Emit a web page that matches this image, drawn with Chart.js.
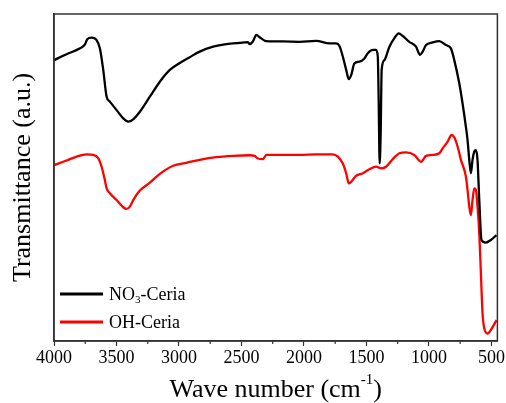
<!DOCTYPE html>
<html>
<head>
<meta charset="utf-8">
<script src="https://cdn.jsdelivr.net/npm/chart.js@4/dist/chart.umd.min.js"></script>
<style>
  html, body { margin: 0; padding: 0; background: #fff; }
  #wrap { width: 506px; height: 403px; position: relative; }
</style>
</head>
<body>
<div id="wrap"><canvas id="ftirChart"></canvas></div>
<script>
// --- Data (wavenumber cm-1, transmittance a.u.) ---
const no3Wave = [4000, 3899, 3792, 3752, 3734, 3699, 3659, 3633, 3606, 3579, 3553, 3499, 3446, 3406, 3366, 3313, 3233, 3153, 3073, 2994, 2914, 2834, 2727, 2621, 2514, 2448, 2435, 2408, 2381, 2355, 2301, 2168, 2035, 1902, 1796, 1742, 1716, 1689, 1662, 1641, 1622, 1596, 1556, 1516, 1489, 1449, 1423, 1409, 1402, 1394, 1386, 1378, 1356, 1316, 1276, 1242, 1210, 1157, 1103, 1071, 1050, 1023, 970, 917, 864, 824, 797, 757, 731, 704, 691, 677, 664, 651, 637, 624, 611, 597, 579, 544, 504, 459];
const no3Trans = [85.9, 87.7, 89.5, 90.7, 92.3, 92.8, 92.0, 89.5, 82.9, 74.7, 73.2, 70.6, 68.1, 67.1, 67.8, 70.1, 74.7, 79.3, 82.9, 85.0, 86.8, 88.5, 90.0, 90.8, 91.2, 91.4, 90.8, 91.6, 93.6, 92.9, 91.7, 91.6, 91.5, 91.8, 91.0, 91.0, 90.2, 87.0, 82.9, 80.1, 81.3, 84.9, 85.4, 86.4, 88.0, 89.0, 89.0, 87.0, 73.7, 54.3, 63.5, 82.9, 85.9, 90.0, 92.6, 94.1, 93.3, 91.5, 90.0, 87.5, 88.5, 90.5, 91.3, 91.7, 90.5, 89.5, 85.9, 78.8, 72.7, 65.5, 61.5, 55.4, 51.3, 55.4, 57.9, 58.4, 55.4, 43.1, 30.9, 30.1, 30.9, 32.4];

const ohWave = [4000, 3899, 3819, 3739, 3686, 3646, 3619, 3593, 3579, 3553, 3499, 3446, 3420, 3393, 3366, 3313, 3233, 3153, 3047, 2940, 2834, 2701, 2568, 2435, 2395, 2368, 2328, 2301, 2168, 2035, 1902, 1769, 1729, 1689, 1662, 1641, 1622, 1583, 1529, 1476, 1423, 1383, 1343, 1290, 1236, 1183, 1117, 1063, 1023, 970, 917, 890, 850, 818, 797, 770, 744, 704, 691, 677, 664, 651, 637, 624, 611, 597, 584, 571, 557, 531, 496, 459];
const ohTrans = [53.8, 55.2, 56.4, 57.1, 56.9, 55.9, 53.3, 49.2, 46.7, 45.2, 43.1, 40.9, 40.4, 41.1, 43.1, 46.0, 48.4, 51.1, 53.6, 54.5, 55.4, 56.2, 56.6, 56.8, 56.6, 55.8, 55.6, 56.9, 56.9, 56.9, 57.1, 57.1, 56.4, 54.3, 51.3, 48.2, 48.7, 50.5, 51.3, 52.5, 53.3, 52.8, 53.3, 55.6, 57.4, 57.7, 56.9, 54.8, 56.6, 56.9, 57.4, 58.9, 61.0, 63.0, 62.3, 59.4, 55.4, 50.3, 46.2, 41.1, 38.5, 43.1, 46.7, 46.2, 41.1, 32.9, 20.7, 8.5, 3.9, 2.3, 3.9, 6.4];

const majorTicks = [4000, 3500, 3000, 2500, 2000, 1500, 1000, 500];
const minorTicks = [3750, 3250, 2750, 2250, 1750, 1250, 750];

const seriesLabels = ['NO3-Ceria', 'OH-Ceria'];
const seriesColors = ['#000000', '#ff0000'];

const serif = "'Liberation Serif', 'Times New Roman', serif";

// --- Helpers ---
const toPoints = (xs, ys) => xs.map((x, i) => ({ x: x, y: ys[i] }));

// text with digits after letters drawn as subscript (NO3)
function drawChemText(ctx, text, x, y, size) {
    let cx = x;
    const parts = text.match(/[A-Za-z\-]+|\d+/g);
    let prevLetter = false;
    parts.forEach(p => {
        if (/^\d+$/.test(p) && prevLetter) {
            ctx.font = (size * 0.62) + 'px ' + serif;
            ctx.fillText(p, cx, y + size * 0.28);
        } else {
            ctx.font = size + 'px ' + serif;
            ctx.fillText(p, cx, y);
        }
        cx += ctx.measureText(p).width;
        prevLetter = /[A-Za-z]$/.test(p);
    });
}

// frame, minor ticks, x title, legend
const decorPlugin = {
    id: 'decor',
    afterDraw(chart) {
        const ctx = chart.ctx;
        const area = chart.chartArea;
        const xs = chart.scales.x;
        ctx.save();

        // box around the plot
        ctx.strokeStyle = '#333';
        ctx.lineWidth = 1.5;
        ctx.strokeRect(area.left, area.top, area.right - area.left, area.bottom - area.top);

        // minor ticks
        ctx.lineWidth = 1.2;
        minorTicks.forEach(v => {
            const px = xs.getPixelForValue(v);
            ctx.beginPath();
            ctx.moveTo(px, area.bottom);
            ctx.lineTo(px, area.bottom + 3);
            ctx.stroke();
        });

        // x axis title with superscript
        ctx.fillStyle = '#000';
        ctx.textBaseline = 'alphabetic';
        const big = 26, small = 15;
        const t1 = 'Wave number (cm', sup = '-1', t2 = ')';
        ctx.font = big + 'px ' + serif;
        const w1 = ctx.measureText(t1).width;
        const w3 = ctx.measureText(t2).width;
        ctx.font = small + 'px ' + serif;
        const w2 = ctx.measureText(sup).width;
        let tx = (area.left + area.right) / 2 - (w1 + w2 + w3) / 2;
        const ty = 397;
        ctx.font = big + 'px ' + serif;
        ctx.fillText(t1, tx, ty);
        tx += w1;
        ctx.font = small + 'px ' + serif;
        ctx.fillText(sup, tx, ty - 13);
        tx += w2;
        ctx.font = big + 'px ' + serif;
        ctx.fillText(t2, tx, ty);

        // legend
        const legendY = [294, 322];
        chart.data.datasets.forEach((ds, i) => {
            ctx.strokeStyle = ds.borderColor;
            ctx.lineWidth = 3;
            ctx.beginPath();
            ctx.moveTo(60, legendY[i]);
            ctx.lineTo(103, legendY[i]);
            ctx.stroke();
            ctx.fillStyle = '#000';
            ctx.textBaseline = 'middle';
            drawChemText(ctx, ds.label, 109, legendY[i] + 1, 18);
        });

        ctx.restore();
    }
};

const chart = new Chart(document.getElementById('ftirChart'), {
    type: 'line',
    data: {
        datasets: [
            {
                label: seriesLabels[0],
                data: toPoints(no3Wave, no3Trans),
                borderColor: seriesColors[0],
                borderWidth: 2.3,
                pointRadius: 0,
                cubicInterpolationMode: 'monotone'
            },
            {
                label: seriesLabels[1],
                data: toPoints(ohWave, ohTrans),
                borderColor: seriesColors[1],
                borderWidth: 2.3,
                pointRadius: 0,
                cubicInterpolationMode: 'monotone'
            }
        ]
    },
    options: {
        responsive: true,
        maintainAspectRatio: false,
        animation: false,
        layout: { padding: { top: 14, right: 8, left: 0, bottom: 0 } },
        plugins: {
            legend: { display: false },
            tooltip: { enabled: false }
        },
        scales: {
            x: {
                type: 'linear',
                reverse: true,
                min: 452,
                max: 4000,
                afterBuildTicks: (scale) => {
                    scale.ticks = majorTicks.map(v => ({ value: v }));
                },
                afterFit: (scale) => { scale.height = 62; },
                grid: {
                    drawOnChartArea: false,
                    drawTicks: true,
                    tickLength: 5,
                    tickWidth: 1.2,
                    tickColor: '#333'
                },
                border: { display: true, color: '#333', width: 1.5 },
                ticks: {
                    color: '#000',
                    padding: 1,
                    maxRotation: 0,
                    autoSkip: false,
                    callback: (val) => String(val),
                    font: { family: serif, size: 18 }
                }
            },
            y: {
                min: 0,
                max: 100,
                afterFit: (scale) => { scale.width = 54; },
                grid: { display: false },
                border: { display: true, color: '#333', width: 1.5 },
                ticks: { display: false },
                title: {
                    display: true,
                    text: 'Transmittance (a.u.)',
                    color: '#000',
                    padding: { top: 8, bottom: 0 },
                    font: { family: serif, size: 26, weight: 'normal' }
                }
            }
        }
    },
    plugins: [decorPlugin]
});
</script>
</body>
</html>
